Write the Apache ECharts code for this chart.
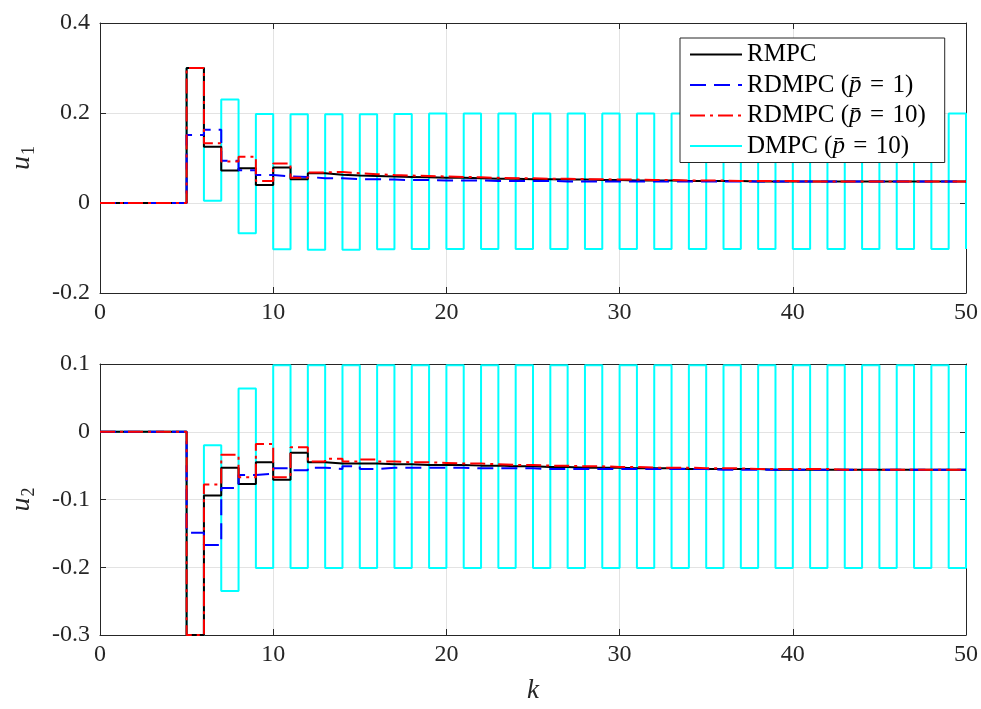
<!DOCTYPE html>
<html>
<head>
<meta charset="utf-8">
<script src="https://cdn.jsdelivr.net/npm/echarts@6/dist/echarts.min.js"></script>
<style>
  html, body { margin: 0; padding: 0; background: #fff; }
  #chart { width: 981px; height: 709px; }
</style>
</head>
<body>
<div id="chart"></div>
<script>
// time steps k = 0..50
const steps = [0,1,2,3,4,5,6,7,8,9,10,11,12,13,14,15,16,17,18,19,20,21,22,23,24,25,
  26,27,28,29,30,31,32,33,34,35,36,37,38,39,40,41,42,43,44,45,46,47,48,49,50];

const seriesNames = ['RMPC', 'RDMPC (p̄ = 1)', 'RDMPC (p̄ = 10)', 'DMPC (p̄ = 10)'];

// input u1
const u1Rmpc = [0,0,0,0,0,0.300,0.125,0.072,0.077,0.040,0.079,0.053,0.066,0.063,0.061,0.060,
  0.059,0.058,0.057,0.056,0.056,0.055,0.054,0.054,0.053,0.053,0.052,0.052,0.051,0.051,0.050,
  0.050,0.050,0.049,0.049,0.049,0.049,0.048,0.048,0.048,0.048,0.048,0.048,0.048,0.048,0.048,
  0.048,0.048,0.048,0.048,0.048];
const u1Rdmpc1 = [0,0,0,0,0,0.151,0.163,0.094,0.073,0.062,0.059,0.058,0.055,0.055,0.053,0.053,
  0.052,0.051,0.051,0.050,0.050,0.050,0.049,0.049,0.049,0.049,0.048,0.048,0.048,0.048,0.048,
  0.048,0.048,0.048,0.048,0.048,0.048,0.048,0.048,0.048,0.048,0.048,0.048,0.048,0.048,0.048,
  0.048,0.048,0.048,0.048,0.048];
const u1Rdmpc10 = [0,0,0,0,0,0.300,0.133,0.092,0.103,0.049,0.088,0.056,0.068,0.069,0.066,0.064,
  0.062,0.061,0.060,0.059,0.058,0.057,0.056,0.055,0.055,0.054,0.054,0.053,0.053,0.052,0.052,
  0.051,0.051,0.050,0.050,0.050,0.049,0.049,0.049,0.049,0.048,0.048,0.048,0.048,0.048,0.048,
  0.048,0.048,0.048,0.048,0.048];
const u1Dmpc = [0,0,0,0,0,0.300,0.005,0.230,-0.067,0.198,-0.103,0.197,-0.104,0.197,-0.104,0.197,
  -0.103,0.198,-0.102,0.199,-0.102,0.199,-0.102,0.199,-0.102,0.199,-0.102,0.199,-0.102,0.199,-0.102,
  0.199,-0.102,0.199,-0.102,0.199,-0.102,0.199,-0.102,0.199,-0.102,0.199,-0.102,0.199,-0.102,0.199,
  -0.102,0.199,-0.102,0.199,-0.102];

// input u2
const u2Rmpc = [0,0,0,0,0,-0.300,-0.094,-0.053,-0.077,-0.045,-0.071,-0.031,-0.045,-0.047,-0.047,-0.047,
  -0.048,-0.048,-0.049,-0.049,-0.049,-0.050,-0.050,-0.051,-0.051,-0.052,-0.052,-0.053,-0.053,-0.053,-0.054,
  -0.054,-0.054,-0.055,-0.055,-0.055,-0.055,-0.055,-0.056,-0.056,-0.056,-0.056,-0.056,-0.056,-0.056,-0.056,
  -0.056,-0.056,-0.056,-0.056,-0.056];
const u2Rdmpc1 = [0,0,0,0,0,-0.149,-0.167,-0.083,-0.064,-0.062,-0.054,-0.057,-0.053,-0.055,-0.051,-0.055,
  -0.053,-0.053,-0.053,-0.053,-0.053,-0.054,-0.054,-0.054,-0.054,-0.055,-0.055,-0.055,-0.055,-0.055,-0.055,
  -0.055,-0.055,-0.055,-0.055,-0.056,-0.056,-0.056,-0.056,-0.056,-0.056,-0.056,-0.056,-0.056,-0.056,-0.056,
  -0.056,-0.056,-0.056,-0.056,-0.056];
const u2Rdmpc10 = [0,0,0,0,0,-0.300,-0.078,-0.034,-0.067,-0.018,-0.067,-0.023,-0.044,-0.040,-0.044,-0.041,
  -0.044,-0.045,-0.045,-0.046,-0.047,-0.047,-0.048,-0.049,-0.049,-0.050,-0.050,-0.051,-0.051,-0.052,-0.052,
  -0.053,-0.053,-0.053,-0.054,-0.054,-0.054,-0.055,-0.055,-0.055,-0.055,-0.055,-0.056,-0.056,-0.056,-0.056,
  -0.056,-0.056,-0.056,-0.056,-0.056];
const u2Dmpc = [0,0,0,0,0,-0.300,-0.020,-0.235,0.064,-0.201,0.098,-0.201,0.098,-0.201,0.098,-0.201,
  0.098,-0.201,0.098,-0.201,0.098,-0.201,0.098,-0.201,0.098,-0.201,0.098,-0.201,0.098,-0.201,0.098,
  -0.201,0.098,-0.201,0.098,-0.201,0.098,-0.201,0.098,-0.201,0.098,-0.201,0.098,-0.201,0.098,-0.201,
  0.098,-0.201,0.098,-0.201,0.098];

const xTicks = { min: 0, max: 50, interval: 10 };
const u1Ticks = { min: -0.2, max: 0.4, interval: 0.2 };
const u2Ticks = { min: -0.3, max: 0.1, interval: 0.1 };

const FONT = 'Liberation Serif';
const AXIS_COLOR = '#262626';
const GRID_COLOR = '#e3e3e3';

const pairs = vals => steps.map((k, i) => [k, vals[i]]);
const fmt = v => String(Math.round(v * 10) / 10);

const styles = [
  { color: '#000000', type: 'solid' },
  { color: '#0000ff', type: [16, 8] },
  { color: '#ff0000', type: [15, 5, 3, 5] },
  { color: '#00ffff', type: 'solid' }
];

function mainX(gridIndex, showName) {
  return {
    type: 'value', gridIndex, position: 'bottom',
    min: xTicks.min, max: xTicks.max, interval: xTicks.interval,
    name: showName ? 'k' : '', nameLocation: 'middle', nameGap: 42,
    nameTextStyle: { fontFamily: FONT, fontStyle: 'italic', fontSize: 27, color: AXIS_COLOR },
    axisLine: { show: true, onZero: false, lineStyle: { color: AXIS_COLOR, width: 1 } },
    axisTick: { show: true, inside: true, length: 6, lineStyle: { color: AXIS_COLOR } },
    axisLabel: { fontFamily: FONT, fontSize: 24, color: AXIS_COLOR, margin: 8 },
    splitLine: { show: true, lineStyle: { color: GRID_COLOR, width: 1 } }
  };
}
function mirrorX(gridIndex) {
  return {
    type: 'value', gridIndex, position: 'top',
    min: xTicks.min, max: xTicks.max, interval: xTicks.interval,
    axisLine: { show: true, onZero: false, lineStyle: { color: AXIS_COLOR, width: 1 } },
    axisTick: { show: true, inside: true, length: 6, lineStyle: { color: AXIS_COLOR } },
    axisLabel: { show: false }, splitLine: { show: false }
  };
}
function mainY(gridIndex, ticks, sub) {
  return {
    type: 'value', gridIndex, position: 'left',
    min: ticks.min, max: ticks.max, interval: ticks.interval,
    name: '{i|u}{s|' + sub + '}', nameLocation: 'middle', nameGap: 62, nameRotate: 90,
    nameTextStyle: {
      color: AXIS_COLOR,
      rich: {
        i: { fontFamily: FONT, fontStyle: 'italic', fontSize: 28, lineHeight: 32, verticalAlign: 'middle', color: AXIS_COLOR },
        s: { fontFamily: FONT, fontSize: 18, lineHeight: 32, verticalAlign: 'bottom', color: AXIS_COLOR, padding: [0, 0, 0, 1] }
      }
    },
    axisLine: { show: true, onZero: false, lineStyle: { color: AXIS_COLOR, width: 1 } },
    axisTick: { show: true, inside: true, length: 6, lineStyle: { color: AXIS_COLOR } },
    axisLabel: { fontFamily: FONT, fontSize: 24, color: AXIS_COLOR, margin: 10, formatter: fmt },
    splitLine: { show: true, lineStyle: { color: GRID_COLOR, width: 1 } }
  };
}
function mirrorY(gridIndex, ticks) {
  return {
    type: 'value', gridIndex, position: 'right',
    min: ticks.min, max: ticks.max, interval: ticks.interval,
    axisLine: { show: true, onZero: false, lineStyle: { color: AXIS_COLOR, width: 1 } },
    axisTick: { show: true, inside: true, length: 6, lineStyle: { color: AXIS_COLOR } },
    axisLabel: { show: false }, splitLine: { show: false }
  };
}

function stairs(name, vals, styleIdx, axisIdx, z) {
  const st = styles[styleIdx];
  return {
    name, type: 'line', step: 'end',
    xAxisIndex: axisIdx, yAxisIndex: axisIdx,
    data: pairs(vals),
    symbol: 'none', showSymbol: false, animation: false, z,
    lineStyle: { color: st.color, width: 2, type: st.type },
    itemStyle: { color: st.color }
  };
}

const option = {
  backgroundColor: '#ffffff',
  animation: false,
  grid: [
    { left: 99, right: 15, top: 23, height: 270 },
    { left: 99, right: 15, top: 364, height: 271 }
  ],
  xAxis: [mainX(0, false), mirrorX(0), mainX(1, true), mirrorX(1)],
  yAxis: [mainY(0, u1Ticks, '1'), mirrorY(0, u1Ticks), mainY(1, u2Ticks, '2'), mirrorY(1, u2Ticks)],
  legend: {
    data: seriesNames,
    orient: 'vertical',
    left: 680, top: 38,
    itemWidth: 52, itemHeight: 20, itemGap: 5.5,
    padding: [4, 19, 4, 9],
    backgroundColor: '#ffffff',
    borderColor: AXIS_COLOR, borderWidth: 1,
    itemStyle: { opacity: 0 },
    lineStyle: { width: 2 },
    formatter: name => name.replace(/\((p̄)/, '({p|$1}').replace(' = ', '\u2004=\u2004'),
    textStyle: {
      fontFamily: FONT, fontSize: 25, lineHeight: 25, color: '#000',
      rich: { p: { fontFamily: FONT, fontStyle: 'italic', fontSize: 25, lineHeight: 25, color: '#000' } }
    }
  },
  series: [
    stairs(seriesNames[3], u1Dmpc, 3, 0, 2),
    stairs(seriesNames[0], u1Rmpc, 0, 0, 3),
    stairs(seriesNames[1], u1Rdmpc1, 1, 0, 3),
    stairs(seriesNames[2], u1Rdmpc10, 2, 0, 3),
    stairs(seriesNames[3], u2Dmpc, 3, 2, 2),
    stairs(seriesNames[0], u2Rmpc, 0, 2, 3),
    stairs(seriesNames[1], u2Rdmpc1, 1, 2, 3),
    stairs(seriesNames[2], u2Rdmpc10, 2, 2, 3)
  ]
};

const chart = echarts.init(document.getElementById('chart'), null, { renderer: 'canvas' });
chart.setOption(option);
</script>
</body>
</html>
